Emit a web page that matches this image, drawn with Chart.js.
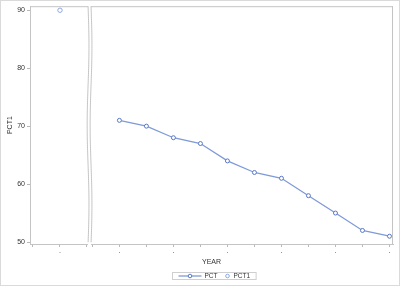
<!DOCTYPE html>
<html>
<head>
<meta charset="utf-8">
<script src="https://cdn.jsdelivr.net/npm/chart.js@4.4.1/dist/chart.umd.min.js"></script>
<style>
  html, body { margin: 0; padding: 0; background: #fff; }
</style>
</head>
<body>
<canvas id="myChart" width="400" height="286"></canvas>
<script>
// data
const leftYears = [1995];
const pct1 = [90];
const rightYears = [2008, 2009, 2010, 2011, 2012, 2013, 2014, 2015, 2016, 2017, 2018];
const pct = [71, 70, 68, 67, 64, 62, 61, 58, 55, 52, 51];
const yTicks = [50, 60, 70, 80, 90];
const tickYears = [1994, 1995, 1996, 2007, 2008, 2009, 2010, 2011, 2012, 2013, 2014, 2015, 2016, 2017, 2018];
const labelledYears = [1995, 2008, 2010, 2012, 2014, 2016, 2018];

const FONT = '"Liberation Sans", Arial, sans-serif';
const TEXT = '#333';
const FRAME = '#c4c4c4';
const LINE_COLOR = '#7f9ad9';
const MARK_COLOR = '#5a78c8';
const MARK1_COLOR = '#8fa8e4';

// broken axis: both panels share one linear scale, the gap is squeezed out
const BREAK_YEAR = 2000;
const BREAK_LO = 1.04, BREAK_HI = 1.15;
function xPos(year) {
  return year < BREAK_YEAR ? year - leftYears[0] : year - rightYears[0] + 2.2;
}

/*****PLUGINS*****/
const frame = {
  id: 'frame',
  beforeDraw(chart) {
    const ctx = chart.ctx;
    ctx.save();
    ctx.fillStyle = '#fff';
    ctx.fillRect(0, 0, chart.width, chart.height);
    ctx.strokeStyle = '#dadada';
    ctx.strokeRect(0.5, 0.5, chart.width - 1, chart.height - 1);
    ctx.restore();
  },
  afterDraw(chart) {
    const { ctx, chartArea: a, scales: { x } } = chart;
    const xl = x.getPixelForValue(BREAK_LO);
    const xr = x.getPixelForValue(BREAK_HI);
    ctx.save();
    ctx.fillStyle = '#fff';
    ctx.fillRect(xl, a.top - 1, xr - xl, a.bottom - a.top + 6);
    ctx.strokeStyle = FRAME;
    ctx.lineWidth = 1;
    ctx.beginPath();
    ctx.moveTo(a.left, a.top + 0.5); ctx.lineTo(xl, a.top + 0.5);
    ctx.moveTo(xr, a.top + 0.5); ctx.lineTo(a.right, a.top + 0.5);
    ctx.moveTo(a.right - 0.5, a.top); ctx.lineTo(a.right - 0.5, a.bottom);
    ctx.stroke();
    [xl, xr].forEach(x0 => {
      ctx.beginPath();
      for (let y = a.top; y <= a.bottom; y += 2) {
        const t = (y - a.top) / (a.bottom - a.top);
        const xx = x0 + 0.9 * Math.sin(t * Math.PI * 3);
        if (y === a.top) ctx.moveTo(xx, y); else ctx.lineTo(xx, y);
      }
      ctx.stroke();
    });
    ctx.restore();
  }
};

const sasLegend = {
  id: 'sasLegend',
  afterDraw(chart) {
    const { ctx, chartArea: a } = chart;
    ctx.save();
    ctx.font = '6.5px ' + FONT;
    const sets = chart.data.datasets;
    const items = sets.map(ds => ({
      ds: ds,
      sw: ds.showLine === false ? 6 : 23,
      tw: ctx.measureText(ds.label).width
    }));
    let total = 0;
    items.forEach((it, i) => { total += it.sw + 3 + it.tw + (i ? 7 : 0); });
    const cx = (a.left + a.right) / 2 + 2.5;
    const boxW = total + 12;
    const bx = Math.round(cx - boxW / 2) + 0.5;
    const by = 272.5, bh = 7;
    ctx.strokeStyle = '#cfcfcf';
    ctx.lineWidth = 1;
    ctx.strokeRect(bx, by, boxW, bh);
    const cy = by + bh / 2;
    let x = bx + 6;
    items.forEach(it => {
      const mx = x + it.sw / 2;
      if (it.ds.showLine !== false) {
        ctx.strokeStyle = it.ds.borderColor;
        ctx.lineWidth = 1.3;
        ctx.beginPath(); ctx.moveTo(x, cy); ctx.lineTo(x + it.sw, cy); ctx.stroke();
      }
      ctx.strokeStyle = it.ds.pointBorderColor;
      ctx.fillStyle = '#fff';
      ctx.lineWidth = 1;
      ctx.beginPath(); ctx.arc(mx, cy, 1.8, 0, Math.PI * 2); ctx.fill(); ctx.stroke();
      ctx.fillStyle = TEXT;
      ctx.textBaseline = 'middle';
      ctx.fillText(it.ds.label, x + it.sw + 3, cy + 0.5);
      x += it.sw + 3 + it.tw + 7;
    });
    ctx.restore();
  }
};

/*****CHART*****/
const ctx = document.getElementById('myChart');
const chart = new Chart(ctx, {
  type: 'line',
  data: {
    datasets: [{
      label: 'PCT',
      data: rightYears.map((yr, i) => ({ x: xPos(yr), y: pct[i] })),
      borderColor: LINE_COLOR,
      borderWidth: 1.3,
      pointStyle: 'circle',
      pointRadius: 2,
      pointBorderWidth: 1,
      pointBorderColor: MARK_COLOR,
      pointBackgroundColor: '#fff',
      tension: 0
    }, {
      label: 'PCT1',
      data: leftYears.map((yr, i) => ({ x: xPos(yr), y: pct1[i] })),
      showLine: false,
      borderColor: MARK1_COLOR,
      pointStyle: 'circle',
      pointRadius: 2.2,
      pointBorderWidth: 1,
      pointBorderColor: MARK1_COLOR,
      pointBackgroundColor: '#fff'
    }]
  },
  options: {
    responsive: false,
    animation: false,
    devicePixelRatio: 1,
    layout: { padding: { top: 6, right: 7, left: 0, bottom: 0 } },
    plugins: {
      legend: { display: false },
      tooltip: { enabled: false }
    },
    scales: {
      x: {
        type: 'linear',
        min: -1.11,
        max: 12.33,
        afterBuildTicks: scale => { scale.ticks = tickYears.map(yr => ({ value: xPos(yr) })); },
        afterFit: scale => { scale.height = 42; },
        ticks: {
          autoSkip: false,
          maxRotation: 0,
          padding: 0,
          color: TEXT,
          font: { size: 7, family: FONT },
          callback: (v, i) => labelledYears.includes(tickYears[i]) ? '.' : ''
        },
        grid: { drawOnChartArea: false, drawTicks: true, tickLength: 3, color: '#b8b8b8' },
        border: { color: FRAME },
        title: {
          display: true,
          text: 'YEAR',
          color: TEXT,
          font: { size: 7, family: FONT },
          padding: { top: 0, bottom: 20 }
        }
      },
      y: {
        min: 49.66,
        max: 90.7,
        afterBuildTicks: scale => { scale.ticks = yTicks.map(v => ({ value: v })); },
        afterFit: scale => { scale.width = 30; },
        ticks: {
          padding: 2,
          color: TEXT,
          font: { size: 7, family: FONT }
        },
        grid: { drawOnChartArea: false, drawTicks: true, tickLength: 3, color: '#b8b8b8' },
        border: { color: FRAME },
        title: {
          display: true,
          text: 'PCT1',
          color: TEXT,
          font: { size: 7, family: FONT },
          padding: { top: 6, bottom: 0 }
        }
      }
    }
  },
  plugins: [frame, sasLegend]
});
</script>
</body>
</html>
